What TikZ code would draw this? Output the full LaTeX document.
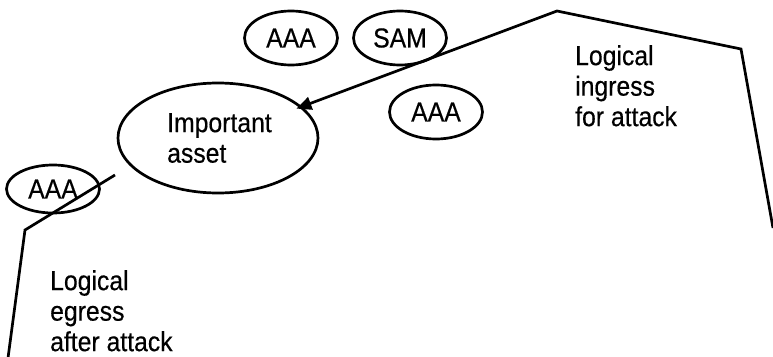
\documentclass[tikz,border=0pt]{standalone}
\usepackage{fontspec}
\setmainfont{Liberation Sans}[FakeStretch=0.9, FakeBold=0.4]
\usetikzlibrary{arrows.meta,shapes.geometric}

\begin{document}
\begin{tikzpicture}[
  x=1pt, y=-1pt,
  every node/.style={font=\fontsize{27.5}{30.5}\selectfont},
  site/.style={ellipse, draw, line width=2.7pt, inner sep=0pt,
               minimum width=93pt, minimum height=54pt},
  asset/.style={ellipse, draw, line width=2.7pt, inner sep=0pt,
                minimum width=200pt, minimum height=110pt},
  lbl/.style={align=left, anchor=north west, inner sep=0pt},
  route/.style={line width=2.7pt, line join=miter},
  arr/.style={route, -{Triangle[length=15pt, width=13pt]}},
]
\useasboundingbox (0,0) rectangle (773,356);

% Sites
\node[site] (aaatop) at (291,38) {AAA};
\node[site] (sam) at (400,38) {SAM};
\node[site] (aaamid) at (436,112) {AAA};
\node[site, minimum height=48pt] (aaaleft) at (53,189) {AAA};

% Important asset
\node[asset] (asset) at (218,138) {};
\node[lbl] (assettxt) at (167,113) {Important\\asset};

% Ingress route
\coordinate (in1) at (773,228);
\coordinate (in2) at (741,49);
\coordinate (in3) at (557,11);
\draw[arr, shorten >=-6pt] (in1) -- (in2) -- (in3) -- (asset);
\node[lbl] (ingress) at (575,45) {Logical\\ingress\\for attack};

% Egress route
\coordinate (out1) at (115,175);
\coordinate (out2) at (25,230);
\coordinate (out3) at (8,358);
\draw[route] (out1) -- (out2) -- (out3);
\node[lbl] (egress) at (50,270) {Logical\\egress\\after attack};

\end{tikzpicture}
\end{document}
